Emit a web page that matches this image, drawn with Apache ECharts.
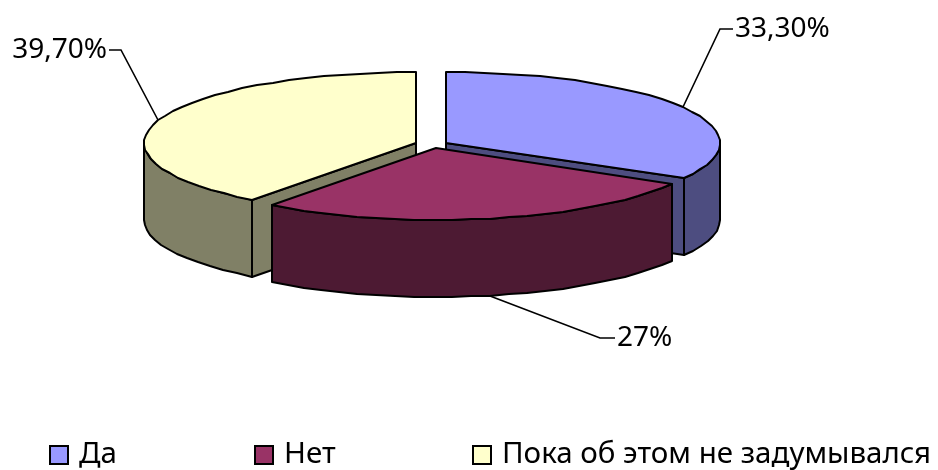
<!DOCTYPE html>
<html><head><meta charset="utf-8">
<style>html,body{margin:0;padding:0;background:#fff}#c{width:938px;height:470px}</style>
<script src="https://cdn.jsdelivr.net/npm/echarts@6/dist/echarts.min.js"></script>
</head><body><div id="c"></div>
<script>
const categories = ['Да', 'Нет', 'Пока об этом не задумывался'];
const values = [33.3, 27, 39.7];
const valueLabels = ['33,30%', '27%', '39,70%'];
const topColors = ['#9999FF', '#993366', '#FFFFCC'];
const sideColors = ['#4D4D80', '#4D1A33', '#808066'];

// layout of the exploded slices, leaders and legend cells
const FONT = '"Noto Sans", Lato, sans-serif';
const DEPTH = 77;
const geometry = [
  { cx: 446, cy: 143, rx: 274, ry: 71, z: 1 },
  { cx: 436, cy: 148, rx: 272, ry: 72, z: 3 },
  { cx: 416, cy: 143, rx: 272, ry: 71, z: 2 }
];
const leaders = [
  { elbow: [37, -78], end: [50, -78], align: 'left', gap: 2 },
  { elbow: [110, 42], end: [125, 42], align: 'left', gap: 2 },
  { elbow: [-37, -70], end: [-49, -70], align: 'right', gap: 2 }
];
const legendLeft = [49, 254, 472];

const total = values.reduce((a, b) => a + b, 0);
let run = 0;
const spans = values.map(v => { const s = [run / total * 360, (run + v) / total * 360]; run += v; return s; });

function pt(g, deg, dy) {
  const a = deg * Math.PI / 180;
  return [Math.round(g.cx + g.rx * Math.sin(a)), Math.round(g.cy - g.ry * Math.cos(a) + (dy || 0))];
}
function arc(g, from, to, dy) {
  const n = Math.max(1, Math.round(Math.abs(to - from) / 4)), out = [];
  for (let i = 0; i <= n; i++) out.push(pt(g, from + (to - from) * i / n, dy));
  return out;
}
const edge = { stroke: '#000', lineWidth: 2, lineJoin: 'round' };
function poly(points, fill) {
  return { type: 'polygon', shape: { points }, style: Object.assign({ fill }, edge) };
}

function renderSlice(idx) {
  return function (params, api) {
    const start = api.value(0), end = api.value(1);
    const g = geometry[idx], kids = [];
    const apex = [g.cx, g.cy], apexB = [g.cx, g.cy + DEPTH];
    // cut faces that look toward the viewer
    if (idx === 0) {
      const c = pt(g, end);
      kids.push(poly([apex, c, [c[0], c[1] + DEPTH], apexB], sideColors[idx]));
    }
    if (idx === 2) {
      const c = pt(g, start);
      kids.push(poly([apex, c, [c[0], c[1] + DEPTH], apexB], sideColors[idx]));
    }
    // outer wall: only the front half of the rim
    const a = Math.max(start, 90), b = Math.min(end, 270);
    if (b > a) {
      kids.push(poly(arc(g, a, b).concat(arc(g, b, a, DEPTH)), sideColors[idx]));
    }
    // top face
    kids.push(poly([apex].concat(arc(g, start, end)), topColors[idx]));
    // leader line and value label
    const mid = (start + end) / 2;
    const front = Math.cos(mid * Math.PI / 180) < 0;
    const p = pt(g, mid, front ? DEPTH : 0);
    const L = leaders[idx];
    const e1 = [p[0] + L.elbow[0], p[1] + L.elbow[1]], e2 = [p[0] + L.end[0], p[1] + L.end[1]];
    kids.push({ type: 'polyline', shape: { points: [p, e1, e2] }, style: { fill: null, stroke: '#000', lineWidth: 1.6 } });
    kids.push({
      type: 'text',
      style: {
        text: valueLabels[idx], x: e2[0] + (L.align === 'left' ? L.gap : -L.gap), y: e2[1],
        align: L.align, verticalAlign: 'middle', fill: '#000', font: '28px ' + FONT
      }
    });
    return { type: 'group', children: kids };
  };
}

const chart = echarts.init(document.getElementById('c'), null, { renderer: 'canvas' });
chart.setOption({
  animation: false,
  backgroundColor: '#fff',
  legend: categories.map((name, i) => ({
    data: [name],
    left: legendLeft[i],
    top: 440,
    padding: 0,
    icon: 'rect',
    itemWidth: 18,
    itemHeight: 18,
    itemStyle: { borderColor: '#000', borderWidth: 2 },
    selectedMode: false,
    textStyle: { fontFamily: FONT, fontSize: 29.5, color: '#000', padding: [0, 0, 0, 6] }
  })),
  series: categories.map((name, i) => ({
    type: 'custom',
    name,
    coordinateSystem: 'none',
    z: geometry[i].z,
    itemStyle: { color: topColors[i] },
    encode: { value: [0, 1] },
    data: [spans[i]],
    renderItem: renderSlice(i),
    silent: true
  }))
});
</script></body></html>
